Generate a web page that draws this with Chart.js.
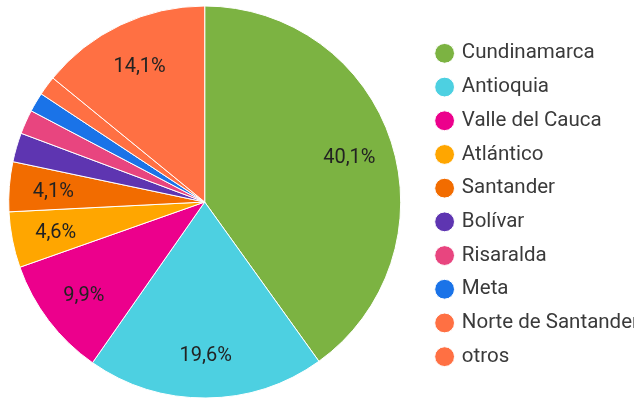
<!DOCTYPE html>
<html>
<head>
<meta charset="utf-8">
<script src="https://cdn.jsdelivr.net/npm/chart.js@4"></script>
<style>
  html, body { margin: 0; padding: 0; background: #fff; }
  #wrap { width: 634px; height: 401px; }
</style>
</head>
<body>
<div id="wrap"><canvas id="myChart" width="634" height="401"></canvas></div>
<script>
// departamentos y porcentaje
const departamentos = ['Cundinamarca', 'Antioquia', 'Valle del Cauca', 'Atlántico', 'Santander',
  'Bolívar', 'Risaralda', 'Meta', 'Norte de Santander', 'otros'];
const porcentajes = [40.1, 19.6, 9.9, 4.6, 4.1, 2.4, 2.0, 1.6, 1.6, 14.1];
const colores = ['#7cb342', '#4dd0e1', '#ec008c', '#ffa600', '#f26c00',
  '#5e35b1', '#e8457f', '#1a73e8', '#ff7043', '#ff7043'];

// only slices big enough get a label
const etiquetas = {
  id: 'etiquetas',
  afterDatasetsDraw(chart) {
    const ctx = chart.ctx;
    const meta = chart.getDatasetMeta(0);
    ctx.save();
    ctx.font = '20px Roboto';
    ctx.fillStyle = '#222';
    ctx.textAlign = 'center';
    ctx.textBaseline = 'middle';
    meta.data.forEach((arc, i) => {
      const v = porcentajes[i];
      if (v < 4) return;
      const p = arc.getProps(['x', 'y', 'startAngle', 'endAngle', 'outerRadius'], true);
      const mid = (p.startAngle + p.endAngle) / 2;
      const r = p.outerRadius * 0.775;
      ctx.fillText(v.toFixed(1).replace('.', ',') + '%', p.x + Math.cos(mid) * r, p.y + Math.sin(mid) * r + 2);
    });
    ctx.restore();
  }
};

// push the legend a bit right of where chart.js puts it
const moverLeyenda = {
  id: 'moverLeyenda',
  afterLayout(chart) {
    const lg = chart.legend;
    lg.left += 15;
    lg.right += 15;
    lg.top += 3;
    lg.bottom += 3;
  }
};

new Chart(document.getElementById('myChart'), {
  type: 'pie',
  data: {
    labels: departamentos,
    datasets: [{
      data: porcentajes,
      backgroundColor: colores,
      borderColor: '#fff',
      borderWidth: 1,
      radius: 196
    }]
  },
  options: {
    responsive: false,
    animation: false,
    layout: { padding: { top: 3 } },
    plugins: {
      tooltip: { enabled: false },
      legend: {
        position: 'right',
        maxWidth: 226,
        labels: {
          usePointStyle: true,
          pointStyle: 'circle',
          boxWidth: 14,
          boxHeight: 14,
          padding: 13.2,
          color: '#3a3a3a',
          font: { family: 'Roboto', size: 20.5 }
        }
      }
    }
  },
  plugins: [etiquetas, moverLeyenda]
});
</script>
</body>
</html>
